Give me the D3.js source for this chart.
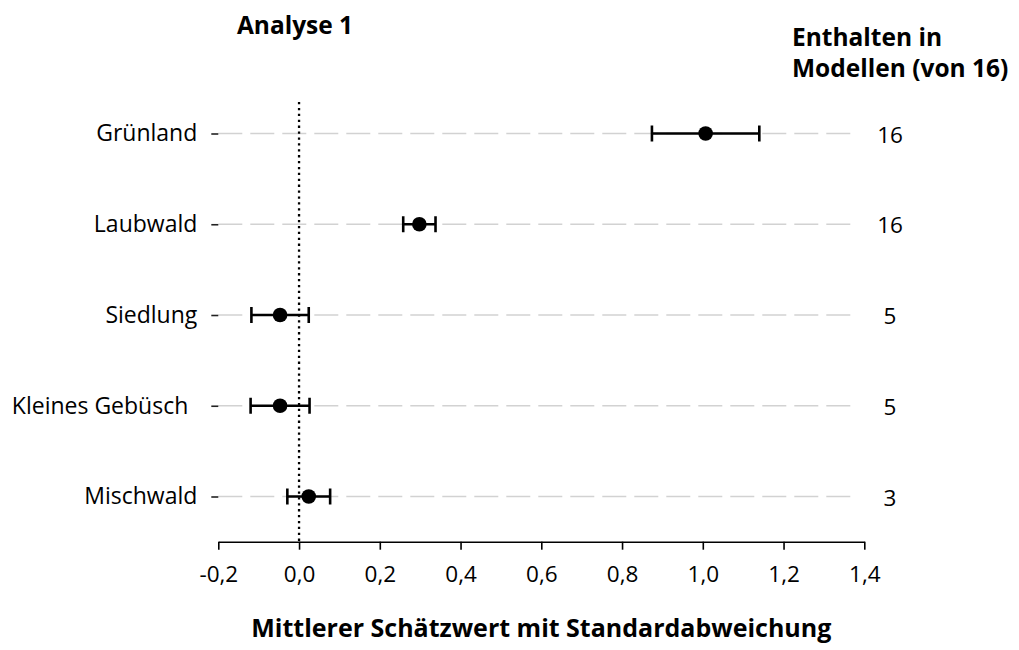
<!DOCTYPE html>
<html>
<head>
<meta charset="utf-8">
<script src="https://cdn.jsdelivr.net/npm/d3@7"></script>
<style>
  html, body { margin: 0; padding: 0; background: #fff; }
  svg { display: block; font-family: "Open Sans", sans-serif; }
</style>
</head>
<body>
<svg id="chart" width="1019" height="650"></svg>
<script>
// ---- data ----
const categories = ["Grünland", "Laubwald", "Siedlung", "Kleines Gebüsch", "Mischwald"];
const means      = [1.007, 0.298, -0.047, -0.047, 0.024];
const stdDevs    = [0.133, 0.040, 0.071, 0.073, 0.053];
const counts     = ["16", "16", "5", "5", "3"];
const xTicks     = [-0.2, 0, 0.2, 0.4, 0.6, 0.8, 1.0, 1.2, 1.4];
const titleLeft  = "Analyse 1";
const titleRight = ["Enthalten in", "Modellen (von 16)"];
const xTitle     = "Mittlerer Schätzwert mit Standardabweichung";

const rows = categories.map((c, i) => ({ cat: c, mean: means[i], sd: stdDevs[i], n: counts[i] }));

const svg = d3.select("#chart");

const x = d3.scaleLinear().domain([-0.2, 1.4]).range([218.3, 864.3]);
const y = d3.scalePoint().domain(categories).range([133.5, 496.5]);
const axisY = 541.7;
const gridEnd = 857;

// grid lines (dashed gray)
svg.append("g").selectAll("line").data(rows).join("line")
  .attr("x1", x(-0.2)).attr("x2", gridEnd)
  .attr("y1", d => y(d.cat)).attr("y2", d => y(d.cat))
  .attr("stroke", "#d2d2d2").attr("stroke-width", 1.6)
  .attr("stroke-dasharray", "24,8");

// zero reference line (dotted)
svg.append("line")
  .attr("x1", x(0)).attr("x2", x(0))
  .attr("y1", 102).attr("y2", axisY)
  .attr("stroke", "#000").attr("stroke-width", 2.3)
  .attr("stroke-dasharray", "2.3,3.6");

// x axis
const fmt = d => d3.format(".1f")(d).replace(".", ",").replace("−", "-");
const xAxis = svg.append("g")
  .attr("transform", `translate(0,${axisY})`)
  .call(d3.axisBottom(x).tickValues(xTicks).tickFormat(fmt).tickSizeInner(8).tickSizeOuter(0).tickPadding(16));
xAxis.select(".domain").attr("stroke", "#000").attr("stroke-width", 1.6);
xAxis.selectAll(".tick line").attr("stroke", "#000").attr("stroke-width", 1.6);
xAxis.selectAll(".tick text")
  .attr("font-family", "Open Sans").attr("font-size", 22.5).attr("fill", "#000");

// y axis (ticks only)
const yAxis = svg.append("g")
  .attr("transform", `translate(${x(-0.2)},0)`)
  .call(d3.axisLeft(y).tickSizeInner(7).tickSizeOuter(0).tickPadding(14));
yAxis.select(".domain").remove();
yAxis.selectAll(".tick line").attr("stroke", "#222").attr("stroke-width", 1.6);
yAxis.selectAll(".tick text")
  .attr("font-family", "Open Sans").attr("font-size", 23).attr("fill", "#000")
  .attr("dx", d => d === "Kleines Gebüsch" ? -9 : 0);

// error bars
const eb = svg.append("g").selectAll("g").data(rows).join("g");
eb.append("line")
  .attr("x1", d => x(d.mean - d.sd)).attr("x2", d => x(d.mean + d.sd))
  .attr("y1", d => y(d.cat)).attr("y2", d => y(d.cat))
  .attr("stroke", "#000").attr("stroke-width", 2.6);
eb.append("line")
  .attr("x1", d => x(d.mean - d.sd)).attr("x2", d => x(d.mean - d.sd))
  .attr("y1", d => y(d.cat) - 8).attr("y2", d => y(d.cat) + 8)
  .attr("stroke", "#000").attr("stroke-width", 2.6);
eb.append("line")
  .attr("x1", d => x(d.mean + d.sd)).attr("x2", d => x(d.mean + d.sd))
  .attr("y1", d => y(d.cat) - 8).attr("y2", d => y(d.cat) + 8)
  .attr("stroke", "#000").attr("stroke-width", 2.6);
eb.append("circle")
  .attr("cx", d => x(d.mean)).attr("cy", d => y(d.cat)).attr("r", 7.3)
  .attr("fill", "#000");

// counts on the right
svg.append("g").selectAll("text").data(rows).join("text")
  .attr("x", 890).attr("y", d => y(d.cat)).attr("dy", "0.4em")
  .attr("text-anchor", "middle")
  .attr("font-size", 22.5).attr("fill", "#000")
  .text(d => d.n);

// titles
svg.append("text")
  .attr("x", 295).attr("y", 34).attr("text-anchor", "middle")
  .attr("font-size", 24.5).attr("font-weight", "bold").attr("fill", "#000")
  .text(titleLeft);

svg.append("g").selectAll("text").data(titleRight).join("text")
  .attr("x", 792).attr("y", (d, i) => 46 + i * 31)
  .attr("font-size", 24.5).attr("font-weight", "bold").attr("fill", "#000")
  .text(d => d);

svg.append("text")
  .attr("x", (x(-0.2) + x(1.4)) / 2).attr("y", 637).attr("text-anchor", "middle")
  .attr("font-size", 25).attr("font-weight", "bold").attr("fill", "#000")
  .text(xTitle);
</script>
</body>
</html>
